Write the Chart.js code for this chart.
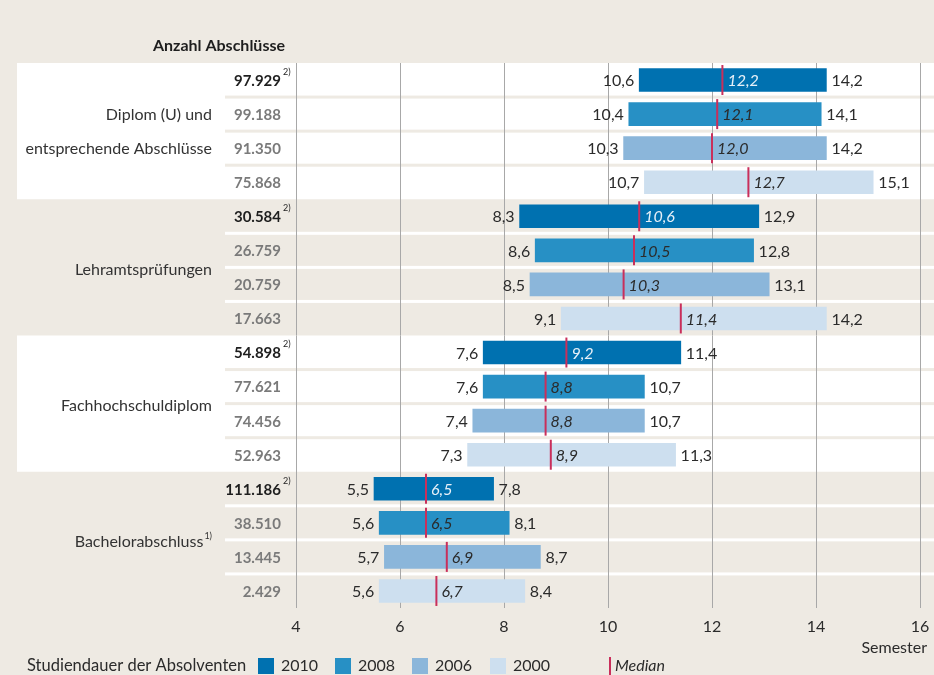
<!DOCTYPE html>
<html><head><meta charset="utf-8">
<script src="https://cdn.jsdelivr.net/npm/chart.js@4"></script>
<style>html,body{margin:0;padding:0;background:#EEEAE3;overflow:hidden}</style>
</head><body>
<canvas id="c" width="934" height="675"></canvas>
<script>
// ---- data ----
const years = ['2010', '2008', '2006', '2000'];
const groupLabels = [['Diplom (U) und', 'entsprechende Abschlüsse'], ['Lehramtsprüfungen'], ['Fachhochschuldiplom'], ['Bachelorabschluss']];
const groupNotes = ['', '', '', '1)'];
const counts = [
  ['97.929', '99.188', '91.350', '75.868'],
  ['30.584', '26.759', '20.759', '17.663'],
  ['54.898', '77.621', '74.456', '52.963'],
  ['111.186', '38.510', '13.445', '2.429']
];
const minVals = [[10.6, 10.4, 10.3, 10.7], [8.3, 8.6, 8.5, 9.1], [7.6, 7.6, 7.4, 7.3], [5.5, 5.6, 5.7, 5.6]];
const medians = [[12.2, 12.1, 12.0, 12.7], [10.6, 10.5, 10.3, 11.4], [9.2, 8.8, 8.8, 8.9], [6.5, 6.5, 6.9, 6.7]];
const maxVals = [[14.2, 14.1, 14.2, 15.1], [12.9, 12.8, 13.1, 14.2], [11.4, 10.7, 10.7, 11.3], [7.8, 8.1, 8.7, 8.4]];
const xTicks = [4, 6, 8, 10, 12, 14, 16];
const colors = ['#0071B0', '#2790C5', '#8BB6DA', '#CDDFEF'];

const BG = '#EEEAE3';
const MEDIAN_C = '#C92F5B';
const F = 'Lato';
const fmt = v => v.toFixed(1).replace('.', ',');

const rowLabels = [];
groupLabels.forEach((g, gi) => years.forEach(y => rowLabels.push(gi + '-' + y)));

const datasets = years.map((y, yi) => ({
  label: y,
  backgroundColor: colors[yi],
  data: rowLabels.map((r, ri) => {
    const gi = Math.floor(ri / 4), k = ri % 4;
    return k === yi ? [minVals[gi][yi], maxVals[gi][yi]] : null;
  }),
  barThickness: 23,
  borderSkipped: false
}));

const deco = {
  id: 'deco',
  beforeDraw(chart) {
    const ctx = chart.ctx, ys = chart.scales.y;
    const W = chart.width;
    ctx.save();
    ctx.fillStyle = BG;
    ctx.fillRect(0, 0, W, chart.height);
    const step = ys.getPixelForValue(1) - ys.getPixelForValue(0);
    groupLabels.forEach((g, gi) => {
      const top = ys.getPixelForValue(gi * 4) - step / 2;
      const bot = ys.getPixelForValue(gi * 4 + 3) + step / 2;
      const white = gi % 2 === 0;
      if (white) { ctx.fillStyle = '#FFFFFF'; ctx.fillRect(17, top, W - 17, bot - top); }
      ctx.fillStyle = white ? BG : '#FFFFFF';
      for (let k = 1; k < 4; k++) {
        const yy = ys.getPixelForValue(gi * 4 + k) - step / 2;
        ctx.fillRect(225, yy - 1.5, W - 225, 3);
      }
    });
    ctx.restore();
  },
  afterDatasetsDraw(chart) {
    const ctx = chart.ctx, xs = chart.scales.x, ys = chart.scales.y;
    ctx.save();
    ctx.textBaseline = 'middle';
    groupLabels.forEach((g, gi) => {
      years.forEach((yr, yi) => {
        const ri = gi * 4 + yi;
        const cy = ys.getPixelForValue(ri);
        const x0 = xs.getPixelForValue(minVals[gi][yi]);
        const x1 = xs.getPixelForValue(maxVals[gi][yi]);
        const xm = xs.getPixelForValue(medians[gi][yi]);
        // median line
        ctx.strokeStyle = MEDIAN_C; ctx.lineWidth = 2;
        ctx.beginPath(); ctx.moveTo(xm, cy - 15); ctx.lineTo(xm, cy + 15); ctx.stroke();
        // values
        ctx.font = '16px ' + F; ctx.fillStyle = '#2B2B2B';
        ctx.textAlign = 'right'; ctx.fillText(fmt(minVals[gi][yi]), x0 - 5, cy + 1);
        ctx.textAlign = 'left'; ctx.fillText(fmt(maxVals[gi][yi]), x1 + 5, cy + 1);
        ctx.font = 'italic 16px ' + F;
        ctx.fillStyle = yi === 0 ? '#E6F0F8' : '#2B2B2B';
        ctx.fillText(fmt(medians[gi][yi]), xm + 5, cy + 1);
        // counts
        ctx.font = 'bold 15px ' + F;
        ctx.fillStyle = yi === 0 ? '#1E1E1E' : '#7A7A7A';
        ctx.textAlign = 'right';
        ctx.fillText(counts[gi][yi], 281, cy + 1);
        if (yi === 0) {
          ctx.font = '9px ' + F; ctx.textAlign = 'left'; ctx.fillStyle = '#1E1E1E';
          ctx.fillText('2)', 283, cy - 8);
        }
      });
      // group label
      const lines = groupLabels[gi];
      ctx.fillStyle = '#333333'; ctx.textAlign = 'right';
      if (lines.length === 2) {
        ctx.font = '16px ' + F;
        ctx.fillText(lines[0], 212, ys.getPixelForValue(gi * 4 + 1) + 1);
        ctx.fillText(lines[1], 212, ys.getPixelForValue(gi * 4 + 2) + 1);
      } else {
        const cy = (ys.getPixelForValue(gi * 4 + 1) + ys.getPixelForValue(gi * 4 + 2)) / 2 + 2;
        let right = 212;
        if (groupNotes[gi]) {
          ctx.font = '9px ' + F; ctx.textAlign = 'right';
          ctx.fillText(groupNotes[gi], 212, cy - 6);
          right = 212 - ctx.measureText(groupNotes[gi]).width - 1;
        }
        ctx.font = '16px ' + F; ctx.textAlign = 'right';
        ctx.fillText(lines[0], right, cy);
      }
    });
    // header
    ctx.font = 'bold 16px ' + F; ctx.fillStyle = '#1E1E1E'; ctx.textAlign = 'right';
    ctx.fillText('Anzahl Abschlüsse', 285, 46);
    // axis title
    ctx.font = '16px ' + F; ctx.fillStyle = '#2B2B2B'; ctx.textAlign = 'right';
    ctx.fillText('Semester', 927, 648);
    // legend
    ctx.textAlign = 'left';
    ctx.font = '16.5px ' + F;
    ctx.fillText('Studiendauer der Absolventen', 27, 666);
    ctx.font = '16px ' + F;
    const sq = [258, 335, 412, 490];
    years.forEach((yr, yi) => {
      ctx.fillStyle = colors[yi];
      ctx.fillRect(sq[yi], 658, 16, 16);
      ctx.fillStyle = '#2B2B2B';
      ctx.fillText(yr, sq[yi] + 23, 666);
    });
    ctx.strokeStyle = MEDIAN_C; ctx.lineWidth = 2;
    ctx.beginPath(); ctx.moveTo(610, 657); ctx.lineTo(610, 675); ctx.stroke();
    ctx.font = 'italic 16px ' + F; ctx.fillStyle = '#2B2B2B';
    ctx.fillText('Median', 615, 666);
    ctx.restore();
  }
};

new Chart(document.getElementById('c'), {
  type: 'bar',
  data: { labels: rowLabels, datasets },
  options: {
    indexAxis: 'y',
    responsive: false,
    animation: false,
    layout: { padding: { left: 296, right: 14, top: 63, bottom: 0 } },
    plugins: { legend: { display: false }, tooltip: { enabled: false } },
    scales: {
      y: { type: 'category', display: false, stacked: true, offset: true },
      x: {
        type: 'linear', min: 4, max: 16,
        afterBuildTicks: s => { s.ticks = xTicks.map(v => ({ value: v })); },
        afterFit: s => { s.height = 67; },
        grid: { color: '#A8A8A8', lineWidth: 1, drawTicks: true, tickLength: 9, tickColor: 'rgba(0,0,0,0)' },
        border: { display: false },
        ticks: { padding: 0, color: '#2B2B2B', font: { family: F, size: 16 }, callback: v => String(v) }
      }
    }
  },
  plugins: [deco]
});
</script>
</body></html>
